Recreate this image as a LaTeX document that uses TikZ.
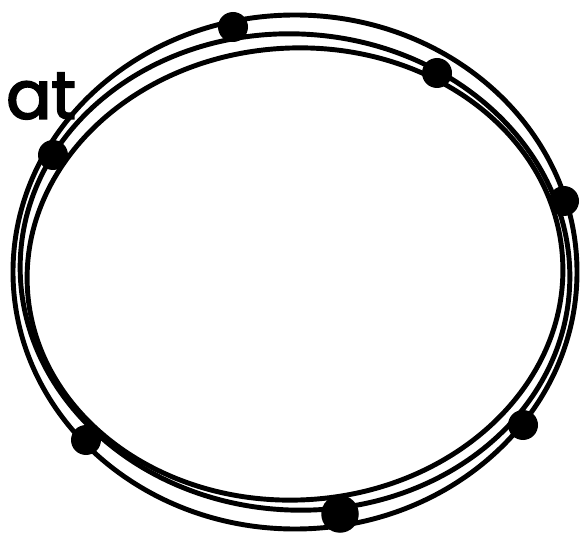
\documentclass[tikz,border=0pt]{standalone}
\usepackage{fontspec}
\newfontfamily\wordfont{Poppins}[FakeBold=3]
\usepackage{tikz}
\usetikzlibrary{positioning}

\begin{document}
\begin{tikzpicture}[
  x=0.02cm, y=-0.02cm,
  ring/.style={draw, line width=2.8pt},
  dot/.style={circle, fill=black, inner sep=0pt, minimum size=0.6cm},
  word/.style={font=\wordfont\fontsize{38}{42}\selectfont, inner sep=0pt}
]
  \useasboundingbox (0,0) rectangle (584,533);
  % three loose strokes of the loop
  \draw[ring] (295,272) ellipse [x radius=282, y radius=257];
  \draw[ring, rotate around={-4:(295,272)}] (295,272) ellipse [x radius=275, y radius=238];
  \draw[ring, rotate around={3:(295,274)}] (295,274) ellipse [x radius=268, y radius=226];
  % dots on the loop
  \node[dot] (d1) at (233,27) {};
  \node[dot] (d2) at (437,73) {};
  \node[dot] (d3) at (53,155) {};
  \node[dot] (d4) at (564,201) {};
  \node[dot] (d5) at (523,425) {};
  \node[dot] (d6) at (86,440) {};
  \node[dot, minimum size=0.75cm] (d7) at (340,514) {};
  \node[word] (lbl) at (41,96) {at};
\end{tikzpicture}
\end{document}
